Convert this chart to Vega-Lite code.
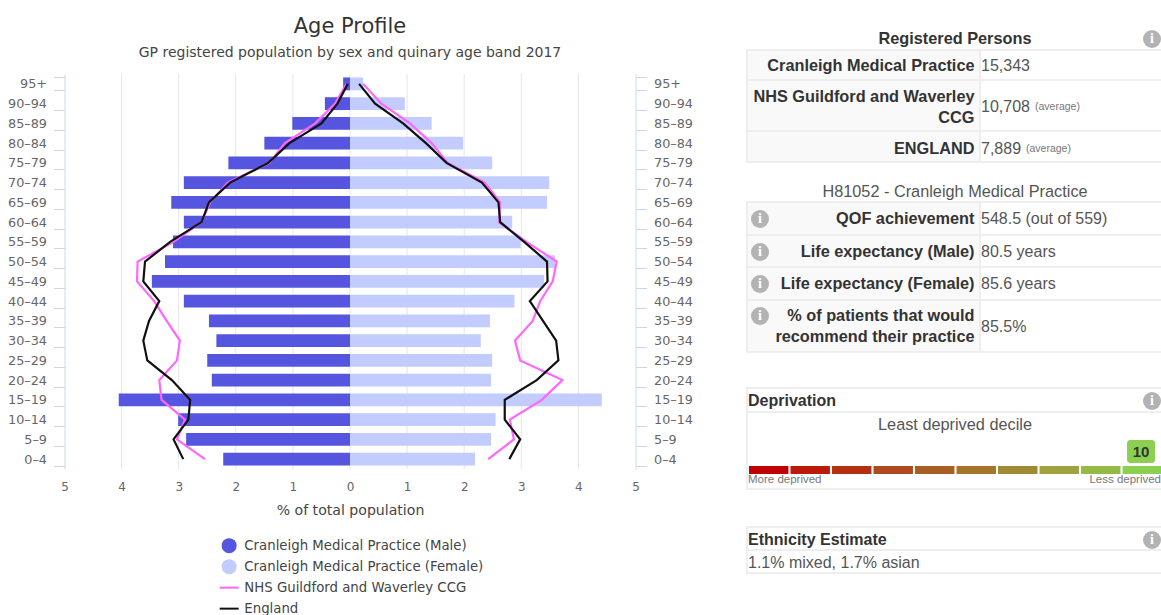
{
"$schema":"https://vega.github.io/schema/vega-lite/v6.json",
"width":1161,"height":615,"autosize":{"type":"pad"},"padding":{"left":0,"top":-6,"right":0,"bottom":0},"background":"white",
"config":{"view":{"stroke":null},"font":"DejaVu Sans","text":{"font":"Liberation Sans","baseline":"middle"}},
"datasets":{
"gridTicks":[{"tick":-4},{"tick":-3},{"tick":-2},{"tick":-1},{"tick":0},{"tick":1},{"tick":2},{"tick":3},{"tick":4}],
"barRows":[
{"age":"95+","series":"Cranleigh Medical Practice (Male)","value":-0.12},{"age":"90–94","series":"Cranleigh Medical Practice (Male)","value":-0.44},{"age":"85–89","series":"Cranleigh Medical Practice (Male)","value":-1.01},{"age":"80–84","series":"Cranleigh Medical Practice (Male)","value":-1.5},{"age":"75–79","series":"Cranleigh Medical Practice (Male)","value":-2.13},{"age":"70–74","series":"Cranleigh Medical Practice (Male)","value":-2.91},{"age":"65–69","series":"Cranleigh Medical Practice (Male)","value":-3.13},{"age":"60–64","series":"Cranleigh Medical Practice (Male)","value":-2.91},{"age":"55–59","series":"Cranleigh Medical Practice (Male)","value":-3.1},{"age":"50–54","series":"Cranleigh Medical Practice (Male)","value":-3.24},{"age":"45–49","series":"Cranleigh Medical Practice (Male)","value":-3.47},{"age":"40–44","series":"Cranleigh Medical Practice (Male)","value":-2.91},{"age":"35–39","series":"Cranleigh Medical Practice (Male)","value":-2.47},{"age":"30–34","series":"Cranleigh Medical Practice (Male)","value":-2.34},{"age":"25–29","series":"Cranleigh Medical Practice (Male)","value":-2.5},{"age":"20–24","series":"Cranleigh Medical Practice (Male)","value":-2.42},{"age":"15–19","series":"Cranleigh Medical Practice (Male)","value":-4.05},{"age":"10–14","series":"Cranleigh Medical Practice (Male)","value":-3.01},{"age":"5–9","series":"Cranleigh Medical Practice (Male)","value":-2.87},{"age":"0–4","series":"Cranleigh Medical Practice (Male)","value":-2.22},
{"age":"95+","series":"Cranleigh Medical Practice (Female)","value":0.23},{"age":"90–94","series":"Cranleigh Medical Practice (Female)","value":0.96},{"age":"85–89","series":"Cranleigh Medical Practice (Female)","value":1.43},{"age":"80–84","series":"Cranleigh Medical Practice (Female)","value":1.98},{"age":"75–79","series":"Cranleigh Medical Practice (Female)","value":2.49},{"age":"70–74","series":"Cranleigh Medical Practice (Female)","value":3.49},{"age":"65–69","series":"Cranleigh Medical Practice (Female)","value":3.45},{"age":"60–64","series":"Cranleigh Medical Practice (Female)","value":2.84},{"age":"55–59","series":"Cranleigh Medical Practice (Female)","value":2.99},{"age":"50–54","series":"Cranleigh Medical Practice (Female)","value":3.59},{"age":"45–49","series":"Cranleigh Medical Practice (Female)","value":3.4},{"age":"40–44","series":"Cranleigh Medical Practice (Female)","value":2.88},{"age":"35–39","series":"Cranleigh Medical Practice (Female)","value":2.45},{"age":"30–34","series":"Cranleigh Medical Practice (Female)","value":2.29},{"age":"25–29","series":"Cranleigh Medical Practice (Female)","value":2.49},{"age":"20–24","series":"Cranleigh Medical Practice (Female)","value":2.47},{"age":"15–19","series":"Cranleigh Medical Practice (Female)","value":4.41},{"age":"10–14","series":"Cranleigh Medical Practice (Female)","value":2.55},{"age":"5–9","series":"Cranleigh Medical Practice (Female)","value":2.47},{"age":"0–4","series":"Cranleigh Medical Practice (Female)","value":2.19}
],
"lineRows":[
{"age":"95+","series":"NHS Guildford and Waverley CCG","sex":"M","value":-0.06},{"age":"90–94","series":"NHS Guildford and Waverley CCG","sex":"M","value":-0.26},{"age":"85–89","series":"NHS Guildford and Waverley CCG","sex":"M","value":-0.61},{"age":"80–84","series":"NHS Guildford and Waverley CCG","sex":"M","value":-1.14},{"age":"75–79","series":"NHS Guildford and Waverley CCG","sex":"M","value":-1.41},{"age":"70–74","series":"NHS Guildford and Waverley CCG","sex":"M","value":-2.14},{"age":"65–69","series":"NHS Guildford and Waverley CCG","sex":"M","value":-2.45},{"age":"60–64","series":"NHS Guildford and Waverley CCG","sex":"M","value":-2.6},{"age":"55–59","series":"NHS Guildford and Waverley CCG","sex":"M","value":-3.09},{"age":"50–54","series":"NHS Guildford and Waverley CCG","sex":"M","value":-3.72},{"age":"45–49","series":"NHS Guildford and Waverley CCG","sex":"M","value":-3.73},{"age":"40–44","series":"NHS Guildford and Waverley CCG","sex":"M","value":-3.43},{"age":"35–39","series":"NHS Guildford and Waverley CCG","sex":"M","value":-3.21},{"age":"30–34","series":"NHS Guildford and Waverley CCG","sex":"M","value":-2.98},{"age":"25–29","series":"NHS Guildford and Waverley CCG","sex":"M","value":-3.03},{"age":"20–24","series":"NHS Guildford and Waverley CCG","sex":"M","value":-3.34},{"age":"15–19","series":"NHS Guildford and Waverley CCG","sex":"M","value":-3.3},{"age":"10–14","series":"NHS Guildford and Waverley CCG","sex":"M","value":-2.89},{"age":"5–9","series":"NHS Guildford and Waverley CCG","sex":"M","value":-3.03},{"age":"0–4","series":"NHS Guildford and Waverley CCG","sex":"M","value":-2.54},
{"age":"95+","series":"NHS Guildford and Waverley CCG","sex":"F","value":0.23},{"age":"90–94","series":"NHS Guildford and Waverley CCG","sex":"F","value":0.55},{"age":"85–89","series":"NHS Guildford and Waverley CCG","sex":"F","value":1.05},{"age":"80–84","series":"NHS Guildford and Waverley CCG","sex":"F","value":1.43},{"age":"75–79","series":"NHS Guildford and Waverley CCG","sex":"F","value":1.71},{"age":"70–74","series":"NHS Guildford and Waverley CCG","sex":"F","value":2.36},{"age":"65–69","series":"NHS Guildford and Waverley CCG","sex":"F","value":2.63},{"age":"60–64","series":"NHS Guildford and Waverley CCG","sex":"F","value":2.61},{"age":"55–59","series":"NHS Guildford and Waverley CCG","sex":"F","value":3.09},{"age":"50–54","series":"NHS Guildford and Waverley CCG","sex":"F","value":3.62},{"age":"45–49","series":"NHS Guildford and Waverley CCG","sex":"F","value":3.55},{"age":"40–44","series":"NHS Guildford and Waverley CCG","sex":"F","value":3.33},{"age":"35–39","series":"NHS Guildford and Waverley CCG","sex":"F","value":3.2},{"age":"30–34","series":"NHS Guildford and Waverley CCG","sex":"F","value":2.89},{"age":"25–29","series":"NHS Guildford and Waverley CCG","sex":"F","value":2.98},{"age":"20–24","series":"NHS Guildford and Waverley CCG","sex":"F","value":3.72},{"age":"15–19","series":"NHS Guildford and Waverley CCG","sex":"F","value":3.36},{"age":"10–14","series":"NHS Guildford and Waverley CCG","sex":"F","value":2.8},{"age":"5–9","series":"NHS Guildford and Waverley CCG","sex":"F","value":2.87},{"age":"0–4","series":"NHS Guildford and Waverley CCG","sex":"F","value":2.42},
{"age":"95+","series":"England","sex":"M","value":-0.04},{"age":"90–94","series":"England","sex":"M","value":-0.22},{"age":"85–89","series":"England","sex":"M","value":-0.5},{"age":"80–84","series":"England","sex":"M","value":-1.06},{"age":"75–79","series":"England","sex":"M","value":-1.43},{"age":"70–74","series":"England","sex":"M","value":-2.1},{"age":"65–69","series":"England","sex":"M","value":-2.47},{"age":"60–64","series":"England","sex":"M","value":-2.6},{"age":"55–59","series":"England","sex":"M","value":-3.15},{"age":"50–54","series":"England","sex":"M","value":-3.59},{"age":"45–49","series":"England","sex":"M","value":-3.62},{"age":"40–44","series":"England","sex":"M","value":-3.34},{"age":"35–39","series":"England","sex":"M","value":-3.52},{"age":"30–34","series":"England","sex":"M","value":-3.62},{"age":"25–29","series":"England","sex":"M","value":-3.55},{"age":"20–24","series":"England","sex":"M","value":-3.12},{"age":"15–19","series":"England","sex":"M","value":-2.8},{"age":"10–14","series":"England","sex":"M","value":-2.83},{"age":"5–9","series":"England","sex":"M","value":-3.09},{"age":"0–4","series":"England","sex":"M","value":-2.92},
{"age":"95+","series":"England","sex":"F","value":0.16},{"age":"90–94","series":"England","sex":"F","value":0.44},{"age":"85–89","series":"England","sex":"F","value":0.93},{"age":"80–84","series":"England","sex":"F","value":1.33},{"age":"75–79","series":"England","sex":"F","value":1.69},{"age":"70–74","series":"England","sex":"F","value":2.31},{"age":"65–69","series":"England","sex":"F","value":2.6},{"age":"60–64","series":"England","sex":"F","value":2.63},{"age":"55–59","series":"England","sex":"F","value":3.05},{"age":"50–54","series":"England","sex":"F","value":3.45},{"age":"45–49","series":"England","sex":"F","value":3.46},{"age":"40–44","series":"England","sex":"F","value":3.15},{"age":"35–39","series":"England","sex":"F","value":3.38},{"age":"30–34","series":"England","sex":"F","value":3.61},{"age":"25–29","series":"England","sex":"F","value":3.65},{"age":"20–24","series":"England","sex":"F","value":3.27},{"age":"15–19","series":"England","sex":"F","value":2.71},{"age":"10–14","series":"England","sex":"F","value":2.71},{"age":"5–9","series":"England","sex":"F","value":2.98},{"age":"0–4","series":"England","sex":"F","value":2.79}
],
"labelCells":[{"c0":0,"c1":1,"r0":0,"r1":1},{"c0":0,"c1":1,"r0":1,"r1":2},{"c0":0,"c1":1,"r0":2,"r1":3},{"c0":0,"c1":1,"r0":4,"r1":5},{"c0":0,"c1":1,"r0":5,"r1":6},{"c0":0,"c1":1,"r0":6,"r1":7},{"c0":0,"c1":1,"r0":7,"r1":8}],
"valueCells":[{"c0":1,"c1":2,"r0":0,"r1":1},{"c0":1,"c1":2,"r0":1,"r1":2},{"c0":1,"c1":2,"r0":2,"r1":3},{"c0":1,"c1":2,"r0":4,"r1":5},{"c0":1,"c1":2,"r0":5,"r1":6},{"c0":1,"c1":2,"r0":6,"r1":7},{"c0":1,"c1":2,"r0":7,"r1":8},{"c0":0,"c1":2,"r0":9,"r1":10},{"c0":0,"c1":2,"r0":10,"r1":11},{"c0":0,"c1":2,"r0":12,"r1":13},{"c0":0,"c1":2,"r0":13,"r1":14}],
"rightLabels":[{"row":3,"col":4,"text":"Cranleigh Medical Practice"},{"row":4,"col":4,"text":"NHS Guildford and Waverley"},{"row":6,"col":4,"text":"CCG"},{"row":7,"col":4,"text":"ENGLAND"},{"row":9,"col":4,"text":"QOF achievement"},{"row":10,"col":4,"text":"Life expectancy (Male)"},{"row":11,"col":4,"text":"Life expectancy (Female)"},{"row":12,"col":4,"text":"% of patients that would"},{"row":14,"col":4,"text":"recommend their practice"}],
"boldLeft":[{"row":15,"col":1,"text":"Deprivation"},{"row":19,"col":1,"text":"Ethnicity Estimate"}],
"boldCentre":[{"row":1,"col":3,"text":"Registered Persons"}],
"valueTexts":[{"row":3,"col":5,"text":"15,343"},{"row":5,"col":5,"text":"10,708"},{"row":7,"col":5,"text":"7,889"},{"row":9,"col":5,"text":"548.5 (out of 559)"},{"row":10,"col":5,"text":"80.5 years"},{"row":11,"col":5,"text":"85.6 years"},{"row":13,"col":5,"text":"85.5%"},{"row":20,"col":1,"text":"1.1% mixed, 1.7% asian"}],
"centred":[{"row":8,"col":3,"text":"H81052 - Cranleigh Medical Practice"},{"row":16,"col":3,"text":"Least deprived decile"}],
"notes":[{"row":5,"col":7,"text":"(average)"},{"row":7,"col":6,"text":"(average)"}],
"notesLeft":[{"row":18,"col":1,"text":"More deprived"}],
"notesRight":[{"row":18,"col":9,"text":"Less deprived"}],
"icons":[{"row":1,"col":8},{"row":15,"col":8},{"row":19,"col":8},{"row":9,"col":2},{"row":10,"col":2},{"row":11,"col":2},{"row":12,"col":2}],
"deciles":[{"decile":1},{"decile":2},{"decile":3},{"decile":4},{"decile":5},{"decile":6},{"decile":7},{"decile":8},{"decile":9},{"decile":10}],
"score":[{"decile":10,"text":"10"}]
},
"layer":[
{"data":{"name":"gridTicks"},"mark":{"type":"rule","color":"#e6e6e6","strokeWidth":1},
 "encoding":{"x":{"field":"tick","type":"quantitative","axis":null,"scale":{"domain":[-5,5],"range":[64.5,635.5]}},
 "y":{"datum":0,"type":"quantitative","axis":null,"scale":{"domain":[0,1],"range":[74,469]}},"y2":{"datum":1}}},
{"data":{"name":"barRows"},"mark":{"type":"bar"},
 "encoding":{
 "x":{"field":"value","type":"quantitative","stack":null,"scale":{"domain":[-5,5],"range":[64.5,635.5],"nice":false},
  "axis":{"orient":"bottom","offset":-146,"values":[-5,-4,-3,-2,-1,0,1,2,3,4,5],"labelExpr":"abs(datum.value)","labelFlush":false,"domain":false,"ticks":false,"grid":false,"labelFontSize":12,"labelColor":"#666666","labelPadding":12,"title":"% of total population","titleFontSize":14.1,"titleFontWeight":"normal","titleColor":"#444444","titlePadding":11,"labelFont":"DejaVu Sans","titleFont":"DejaVu Sans"}},
 "y":{"field":"age","type":"nominal","sort":null,"scale":{"type":"band","domain":["95+","90–94","85–89","80–84","75–79","70–74","65–69","60–64","55–59","50–54","45–49","40–44","35–39","30–34","25–29","20–24","15–19","10–14","5–9","0–4"],"range":[74,469],"paddingInner":0.35,"paddingOuter":0.175},
  "axis":{"orient":"left","offset":-64.5,"title":null,"tickBand":"extent","tickSize":11,"tickColor":"#ccd6eb","domainColor":"#ccd6eb","labelColor":"#666666","labelFontSize":12.8,"labelPadding":7,"labelFont":"DejaVu Sans","grid":false}},
 "color":{"field":"series","type":"nominal","scale":{"domain":["Cranleigh Medical Practice (Male)","Cranleigh Medical Practice (Female)","NHS Guildford and Waverley CCG","England"],"range":["#5555e0","#c2ccff","#ff66ff","#111111"]},
  "legend":{"title":null,"orient":"none","legendX":222.5,"legendY":539,"symbolSize":256,"labelFontSize":13.3,"labelColor":"#444444","labelFont":"DejaVu Sans","labelOffset":8.5,"rowPadding":5,"gridAlign":"all","labelLimit":400,
   "encode":{"symbols":{"update":{
    "shape":{"signal":"(datum.value=='England'||datum.value=='NHS Guildford and Waverley CCG')?'stroke':'circle'"},
    "size":{"signal":"(datum.value=='England'||datum.value=='NHS Guildford and Waverley CCG')?360:225"},
    "fill":{"signal":"datum.value=='Cranleigh Medical Practice (Male)'?'#5555e0':datum.value=='Cranleigh Medical Practice (Female)'?'#c2ccff':'transparent'"},
    "stroke":{"signal":"datum.value=='England'?'#111111':datum.value=='NHS Guildford and Waverley CCG'?'#ff66ff':'transparent'"},
    "strokeWidth":{"signal":"(datum.value=='England'||datum.value=='NHS Guildford and Waverley CCG')?2:0"},"opacity":{"value":1}}}}}}
 }},
{"data":{"name":"lineRows"},"mark":{"type":"line","strokeWidth":2.2},
 "encoding":{
 "x":{"field":"value","type":"quantitative","axis":null,"scale":{"domain":[-5,5],"range":[64.5,635.5],"nice":false}},
 "y":{"field":"age","type":"nominal","sort":null,"scale":{"type":"band","domain":["95+","90–94","85–89","80–84","75–79","70–74","65–69","60–64","55–59","50–54","45–49","40–44","35–39","30–34","25–29","20–24","15–19","10–14","5–9","0–4"],"range":[74,469],"paddingInner":0.35,"paddingOuter":0.175},
  "axis":{"orient":"right","offset":-525.5,"title":null,"tickBand":"extent","tickSize":11,"tickColor":"#ccd6eb","domainColor":"#ccd6eb","labelColor":"#666666","labelFontSize":12.8,"labelPadding":7,"labelFont":"DejaVu Sans","grid":false}},
 "color":{"field":"series","type":"nominal"},
 "detail":{"field":"sex"}
 }},
{"encoding":{
 "x":{"field":"c0","type":"quantitative","axis":null,"scale":{"domain":[0,1,2],"range":[747,980,1163],"nice":false,"zero":false}},
 "x2":{"field":"c1"},
 "y":{"field":"r0","type":"quantitative","axis":null,"scale":{"domain":[0,1,2,3,4,5,6,7,8,9,10,11,12,13,14],"range":[50,80,131,162,202,235,267,300,352,388,412,489,527,550,573],"nice":false,"zero":false}},
 "y2":{"field":"r1"}},
 "layer":[
  {"data":{"name":"labelCells"},"mark":{"type":"rect","clip":true,"fill":"#f9f9f9","stroke":"#eeeeee","strokeWidth":2}},
  {"data":{"name":"valueCells"},"mark":{"type":"rect","clip":true,"fill":"#ffffff","stroke":"#eeeeee","strokeWidth":2}}
 ]},
{"data":{"name":"deciles"},"mark":{"type":"bar","clip":true},
 "encoding":{
 "x":{"field":"decile","type":"ordinal","axis":null,"scale":{"type":"band","domain":[1,2,3,4,5,6,7,8,9,10],"range":[749,1162],"paddingInner":0.05,"paddingOuter":0}},
 "y":{"datum":0,"type":"quantitative","axis":null,"scale":{"domain":[0,1],"range":[466,474]}},"y2":{"datum":1},
 "fill":{"field":"decile","type":"ordinal","legend":null,"scale":{"domain":[1,2,3,4,5,6,7,8,9,10],"range":["#c00000","#bb1a0b","#b33110","#ae4a1f","#a85f22","#a6742a","#a08a33","#a0a23e","#96ba46","#8bd050"]}}
 }},
{"data":{"name":"score"},
 "encoding":{
 "x":{"field":"decile","type":"ordinal","axis":null,"scale":{"type":"band","domain":[1,2,3,4,5,6,7,8,9,10],"range":[747,1161],"paddingInner":0.04,"paddingOuter":0}},
 "y":{"datum":0,"type":"quantitative","axis":null,"scale":{"domain":[0,1],"range":[440,463]}}},
 "layer":[
  {"mark":{"type":"bar","width":28,"cornerRadius":3,"fill":"#8bd050"},"encoding":{"y2":{"datum":1}}},
  {"mark":{"type":"text","align":"center","fontSize":15,"fontWeight":"bold","color":"#333333"},"encoding":{"y":{"datum":0.5,"type":"quantitative"},"text":{"field":"text"}}}
 ]},
{"encoding":{
 "x":{"field":"col","type":"quantitative","axis":null,"scale":{"domain":[0,1,2,3,4,5,6,7,8,9],"range":[350,748,760,955,974.5,981,1026,1035,1152,1161],"nice":false,"zero":false}},
 "y":{"field":"row","type":"quantitative","axis":null,"scale":{"domain":[0,1,2,3,4,5,6,7,8,9,10,11,12,13,14,15,16,17,18,19,20],"range":[26.5,39,53,66,97,107,118,149,192,219,252,284,316,327,337,401,425,453,480,540,563],"nice":false,"zero":false}}},
 "layer":[
  {"data":{"values":[{"row":0,"col":0,"text":"Age Profile"}]},"mark":{"type":"text","align":"center","font":"DejaVu Sans","fontSize":21,"color":"#333333"},"encoding":{"text":{"field":"text"}}},
  {"data":{"values":[{"row":2,"col":0,"text":"GP registered population by sex and quinary age band 2017"}]},"mark":{"type":"text","align":"center","font":"DejaVu Sans","fontSize":14,"color":"#444444"},"encoding":{"text":{"field":"text"}}},
  {"data":{"name":"rightLabels"},"mark":{"type":"text","align":"right","fontSize":16.3,"fontWeight":"bold","color":"#333333"},"encoding":{"text":{"field":"text"}}},
  {"data":{"name":"boldLeft"},"mark":{"type":"text","align":"left","fontSize":16,"fontWeight":"bold","color":"#333333"},"encoding":{"text":{"field":"text"}}},
  {"data":{"name":"boldCentre"},"mark":{"type":"text","align":"center","fontSize":16.3,"fontWeight":"bold","color":"#333333"},"encoding":{"text":{"field":"text"}}},
  {"data":{"name":"valueTexts"},"mark":{"type":"text","align":"left","fontSize":16,"color":"#555555"},"encoding":{"text":{"field":"text"}}},
  {"data":{"name":"centred"},"mark":{"type":"text","align":"center","fontSize":16.3,"color":"#555555"},"encoding":{"text":{"field":"text"}}},
  {"data":{"name":"notes"},"mark":{"type":"text","align":"left","fontSize":10.5,"color":"#777777"},"encoding":{"text":{"field":"text"}}},
  {"data":{"name":"notesLeft"},"mark":{"type":"text","align":"left","fontSize":11.5,"color":"#777777"},"encoding":{"text":{"field":"text"}}},
  {"data":{"name":"notesRight"},"mark":{"type":"text","align":"right","fontSize":11.5,"color":"#777777"},"encoding":{"text":{"field":"text"}}},
  {"data":{"name":"icons"},"mark":{"type":"point","filled":true,"shape":"circle","size":324,"color":"#b3b3b3","opacity":1}},
  {"data":{"name":"icons"},"mark":{"type":"text","align":"center","font":"Liberation Serif","fontSize":14,"fontWeight":"bold","color":"#ffffff","text":"i"}}
 ]}
],
"resolve":{"scale":{"x":"independent","y":"independent","color":"shared"},"axis":{"x":"independent","y":"independent"}}
}
